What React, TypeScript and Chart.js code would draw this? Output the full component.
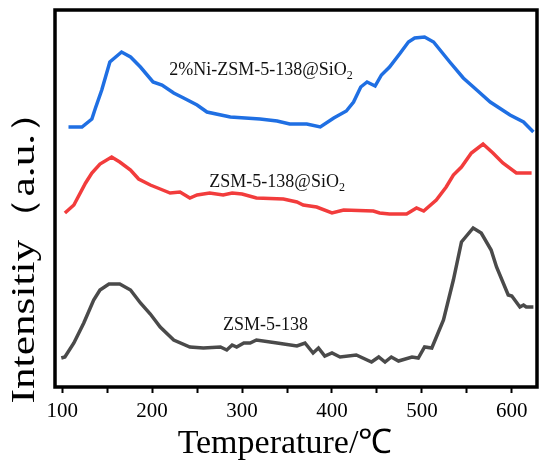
import React, { useEffect, useRef } from "react";
import { Chart, registerables } from "chart.js";

Chart.register(...registerables);

// temperatures (℃) and intensities (a.u.)
const niTemp = [107, 122, 133, 137, 144, 153, 166, 176, 187, 201, 211, 224, 235, 250, 261, 287, 320, 339, 353, 372, 387, 402, 416, 424, 432, 439, 448, 455, 464, 476, 485, 492, 503, 513, 531, 546, 561, 576, 598, 613, 624];
const niIntensity = [260, 260, 268, 279, 297, 325, 335, 330, 320, 305, 302, 294, 289, 282, 275, 270, 268, 266, 263, 263, 260, 269, 276, 285, 300, 305, 301, 312, 320, 334, 345, 349, 350, 345, 325, 309, 297, 285, 272, 265, 255];

const sio2Temp = [103, 113, 126, 133, 142, 155, 164, 176, 185, 198, 209, 220, 231, 242, 250, 264, 279, 289, 300, 316, 346, 361, 368, 383, 400, 413, 446, 453, 464, 483, 494, 502, 516, 527, 535, 544, 555, 568, 579, 590, 605, 622];
const sio2Intensity = [174, 182, 204, 214, 223, 230, 225, 217, 208, 202, 198, 194, 195, 189, 192, 194, 192, 194, 193, 189, 188, 185, 182, 180, 174, 177, 176, 174, 173, 173, 179, 176, 187, 200, 212, 220, 234, 243, 234, 224, 214, 214];

const zsmTemp = [99, 103, 113, 124, 135, 142, 152, 164, 176, 187, 198, 209, 224, 242, 257, 276, 283, 289, 294, 302, 309, 316, 339, 361, 370, 379, 385, 392, 400, 409, 427, 444, 452, 459, 466, 474, 489, 496, 503, 511, 524, 535, 544, 557, 566, 577, 583, 596, 600, 609, 613, 616, 624];
const zsmIntensity = [29, 30, 44, 64, 87, 97, 103, 103, 97, 84, 73, 60, 47, 40, 39, 40, 37, 42, 40, 44, 44, 47, 44, 41, 44, 34, 39, 31, 34, 30, 32, 25, 30, 25, 30, 26, 30, 29, 40, 39, 67, 107, 145, 159, 154, 137, 120, 92, 91, 80, 82, 80, 80];

const seriesNames = ["2%Ni-ZSM-5-138@SiO2", "ZSM-5-138@SiO2", "ZSM-5-138"];
const seriesColors = ["#1f6fe3", "#f23c3c", "#4a4a4a"];
// where each curve's name sits, in data units (temperature, intensity)
const labelTemp = [321, 339, 326];
const labelIntensity = [317, 205, 62];

const xTitle = "Temperature/℃";
const yTitle = "Intensitiy（a.u.）";

const toPoints = (xs: number[], ys: number[]) => xs.map((x, i) => ({ x, y: ys[i] }));

const frame = {
  id: "frame",
  afterDraw(chart: any) {
    const { ctx, chartArea } = chart;
    ctx.save();
    ctx.strokeStyle = "#000";
    ctx.lineWidth = 3.5;
    ctx.strokeRect(chartArea.left, chartArea.top, chartArea.right - chartArea.left, chartArea.bottom - chartArea.top);
    ctx.restore();
  },
};

// axis titles drawn by hand so they sit where the original has them
const titles = {
  id: "titles",
  afterDraw(chart: any) {
    const { ctx } = chart;
    ctx.save();
    ctx.fillStyle = "#000";
    ctx.textAlign = "center";
    ctx.textBaseline = "alphabetic";
    ctx.font = '34px "Liberation Serif"';
    ctx.fillText(xTitle, 285, 453);

    ctx.translate(34, 247);
    ctx.rotate(-Math.PI / 2);
    ctx.font = '33px "Liberation Serif"';
    const w = ctx.measureText(yTitle).width;
    const stretch = Math.min(1.4, 313 / w);
    ctx.scale(stretch, 1);
    ctx.fillText(yTitle, 0, 0);
    ctx.restore();
  },
};

// curve names, with the trailing "2" of SiO2 set as a subscript
const curveLabels = {
  id: "curveLabels",
  afterDatasetsDraw(chart: any) {
    const { ctx, scales } = chart;
    ctx.save();
    ctx.fillStyle = "#111";
    ctx.textBaseline = "middle";
    ctx.textAlign = "left";
    seriesNames.forEach((name, i) => {
      const hasSub = name.endsWith("SiO2");
      const main = hasSub ? name.slice(0, -1) : name;
      ctx.font = '18px "Liberation Serif"';
      const mainW = ctx.measureText(main).width;
      ctx.font = '12px "Liberation Serif"';
      const subW = hasSub ? ctx.measureText("2").width : 0;
      const cx = scales.x.getPixelForValue(labelTemp[i]);
      const cy = scales.y.getPixelForValue(labelIntensity[i]);
      const x0 = cx - (mainW + subW) / 2;
      ctx.font = '18px "Liberation Serif"';
      ctx.fillText(main, x0, cy);
      if (hasSub) {
        ctx.font = '12px "Liberation Serif"';
        ctx.fillText("2", x0 + mainW, cy + 6);
      }
    });
    ctx.restore();
  },
};

const App: React.FC = () => {
  const canvasRef = useRef<HTMLCanvasElement | null>(null);
  const chartRef = useRef<Chart | null>(null);

  useEffect(() => {
    document.body.style.margin = "0";
    if (!canvasRef.current) return;
    const ctx = canvasRef.current.getContext("2d");
    if (!ctx) return;
    if (chartRef.current) chartRef.current.destroy();

    const data = [
      toPoints(niTemp, niIntensity),
      toPoints(sio2Temp, sio2Intensity),
      toPoints(zsmTemp, zsmIntensity),
    ];

    chartRef.current = new Chart(ctx, {
      type: "line",
      data: {
        datasets: data.map((d, i) => ({
          label: seriesNames[i],
          data: d,
          borderColor: seriesColors[i],
          backgroundColor: seriesColors[i],
          borderWidth: 3.5,
          pointRadius: 0,
          tension: 0,
          fill: false,
        })),
      },
      options: {
        animation: false,
        responsive: true,
        maintainAspectRatio: false,
        layout: { padding: { top: 10, right: 13, left: 0, bottom: 0 } },
        plugins: {
          legend: { display: false },
          tooltip: { enabled: false },
        },
        scales: {
          x: {
            type: "linear",
            min: 92,
            max: 628,
            border: { display: false },
            grid: {
              drawOnChartArea: false,
              drawTicks: true,
              tickLength: 6,
              tickWidth: 2,
              tickColor: "#000",
            },
            ticks: {
              stepSize: 50,
              includeBounds: false,
              autoSkip: false,
              maxRotation: 0,
              padding: 6,
              color: "#000",
              font: { family: "Liberation Serif", size: 21 },
              callback: (value: any) => (Number(value) % 100 === 0 ? String(value) : ""),
            },
            afterFit: (scale: any) => {
              scale.height = 78;
            },
          },
          y: {
            min: 0,
            max: 377,
            border: { display: false },
            grid: { display: false },
            ticks: { display: false },
            afterFit: (scale: any) => {
              scale.width = 55;
            },
          },
        },
      },
      plugins: [frame, titles, curveLabels],
    });

    return () => {
      if (chartRef.current) {
        chartRef.current.destroy();
        chartRef.current = null;
      }
    };
  }, []);

  return (
    <div style={{ position: "relative", width: 550, height: 465 }}>
      <canvas ref={canvasRef}></canvas>
    </div>
  );
};

export default App;
